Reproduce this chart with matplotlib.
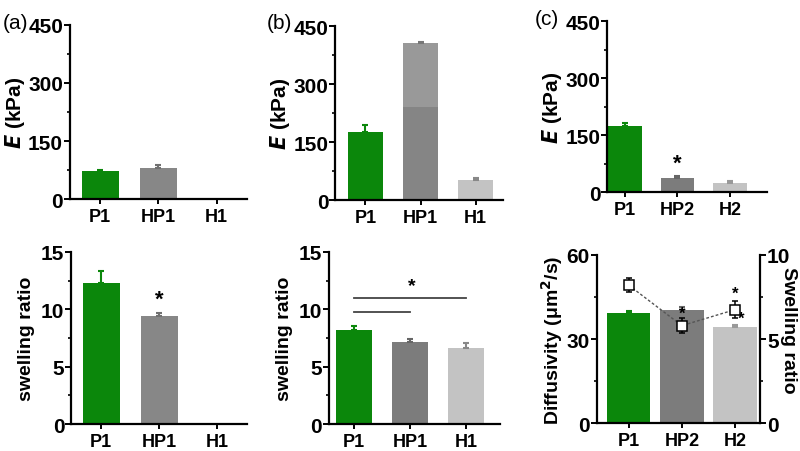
import matplotlib
matplotlib.use("Agg")
import matplotlib.pyplot as plt
import numpy as np
from matplotlib.ticker import MultipleLocator

plt.rcParams['font.family'] = ['Liberation Sans', 'DejaVu Sans']
plt.rcParams['font.weight'] = 'bold'
plt.rcParams['axes.labelweight'] = 'bold'

# panel (a)
cats_a = ["P1", "HP1", "H1"]
E_a = [72, 80, 0]
E_a_err = [4, 8, 0]
sw_a = [12.3, 9.45, 0]
sw_a_err = [1.05, 0.25, 0]

# panel (b)
cats_b = ["P1", "HP1", "H1"]
E_b = [176, 406, 52]
E_b_err = [18, 4, 4]
E_b_hp1_lower = 240  # darker lower part of the HP1 bar
sw_b = [8.2, 7.15, 6.65]
sw_b_err = [0.35, 0.25, 0.4]

# panel (c)
cats_c = ["P1", "HP2", "H2"]
E_c = [174, 37, 24]
E_c_err = [9, 4, 5]
diff_c = [39.3, 40.4, 34.4]
diff_c_err = [0.6, 1.0, 0.8]
swr_c = [8.2, 5.8, 6.75]
swr_c_err = [0.4, 0.45, 0.5]

green = "#0b870b"
gray = "#878787"
dgray = "#7c7c7c"
lgray = "#999999"
vlgray = "#c3c3c3"

fig = plt.figure(figsize=(8, 4.52), dpi=100)


def style(ax, ymax, major):
    for s in ["top", "right"]:
        ax.spines[s].set_visible(False)
    for s in ["left", "bottom"]:
        ax.spines[s].set_linewidth(1.6)
    ax.set_ylim(0, ymax)
    ax.yaxis.set_major_locator(MultipleLocator(major))
    ax.yaxis.set_minor_locator(MultipleLocator(major / 2))
    ax.tick_params(axis="y", which="major", length=4, width=1.4, labelsize=15, pad=1)
    ax.tick_params(axis="y", which="minor", length=2.5, width=1.2)
    ax.tick_params(axis="x", length=3.5, width=1.4, labelsize=13, pad=3)


def bars(ax, cats, vals, errs, colors, ecolors, width=0.64):
    x = np.arange(len(cats))
    ax.bar(x, vals, width=width, color=colors, zorder=2)
    for xi, v, e, ec in zip(x, vals, errs, ecolors):
        if v > 0:
            ax.errorbar(xi, v, yerr=[[0], [e]], color=ec, capsize=2.5, elinewidth=1.5,
                        capthick=1.5, zorder=3)
    ax.set_xticks(x)
    ax.set_xticklabels(cats)
    return x


elabel = "$\\bf{\\it{E}}$ (kPa)"

# (a) top
ax = fig.add_axes([0.0875, 0.5575, 0.221, 0.385])
bars(ax, cats_a, E_a, E_a_err, [green, gray, gray], [green, "#707070", gray])
ax.set_xlim(-0.52, 2.52)
style(ax, 450, 150)
ax.set_ylabel(elabel, fontsize=15, labelpad=1)

# (a) bottom
ax = fig.add_axes([0.089, 0.0595, 0.22, 0.381])
bars(ax, cats_a, sw_a, sw_a_err, [green, gray, gray], [green, "#707070", gray])
ax.set_xlim(-0.52, 2.52)
style(ax, 15, 5)
ax.set_ylabel("swelling ratio", fontsize=14, labelpad=4)
ax.text(1, sw_a[1] + sw_a_err[1] + 0.3, "*", ha="center", va="bottom", fontsize=16)

# (b) top
ax = fig.add_axes([0.419, 0.555, 0.21, 0.385])
x = bars(ax, cats_b, E_b, E_b_err, [green, lgray, vlgray], [green, "#777777", "#888888"])
ax.bar(x[1], E_b_hp1_lower, width=0.64, color="#858585", zorder=2.5)
ax.set_xlim(-0.55, 2.5)
style(ax, 450, 150)
ax.set_ylabel(elabel, fontsize=15, labelpad=1)

# (b) bottom
ax = fig.add_axes([0.411, 0.0595, 0.214, 0.381])
x = bars(ax, cats_b, sw_b, sw_b_err, [green, dgray, vlgray], [green, "#666666", "#888888"])
ax.set_xlim(-0.45, 2.6)
style(ax, 15, 5)
ax.set_ylabel("swelling ratio", fontsize=14, labelpad=4)
ax.plot([x[0], x[1]], [9.75, 9.75], color="#444444", lw=1.3)
ax.plot([x[0], x[2]], [11.0, 11.0], color="#444444", lw=1.3)
ax.text(1.03, 11.3, "*", ha="center", va="bottom", fontsize=14)

# (c) top
ax = fig.add_axes([0.759, 0.573, 0.2, 0.378])
bars(ax, cats_c, E_c, E_c_err, [green, dgray, vlgray], [green, "#666666", "#999999"])
ax.set_xlim(-0.33, 2.7)
style(ax, 450, 150)
ax.set_ylabel(elabel, fontsize=15, labelpad=1)
ax.text(1, E_c[1] + E_c_err[1] + 6, "*", ha="center", va="bottom", fontsize=16)

# (c) bottom
ax = fig.add_axes([0.746, 0.061, 0.204, 0.373])
x = bars(ax, cats_c, diff_c, diff_c_err, [green, dgray, vlgray], [green, "#666666", "#999999"],
         width=0.82)
ax.set_xlim(-0.6, 2.47)
style(ax, 60, 30)
ax.set_ylabel("Diffusivity (\u03bcm$^\\mathbf{2}$/s)", fontsize=14, labelpad=1)
ax.text(x[2] + 0.12, diff_c[2] + 0.4, "*", ha="center", va="bottom", fontsize=12)
ax2 = ax.twinx()
ax2.spines["top"].set_visible(False)
ax2.spines["left"].set_visible(False)
ax2.spines["bottom"].set_visible(False)
ax2.spines["right"].set_linewidth(1.6)
ax2.set_ylim(0, 10)
ax2.yaxis.set_major_locator(MultipleLocator(5))
ax2.yaxis.set_minor_locator(MultipleLocator(2.5))
ax2.tick_params(axis="y", which="major", length=4, width=1.4, labelsize=15, pad=1)
ax2.tick_params(axis="y", which="minor", length=2.5, width=1.2)
ax2.errorbar(x, swr_c, yerr=swr_c_err, fmt="s", ls=(0, (2, 1.5)), color="#555555", lw=1,
             mfc="white", mec="black", ms=7, mew=1.1, ecolor="black", elinewidth=1.1,
             capsize=2.5, capthick=1.1, zorder=4)
ax2.text(x[1], swr_c[1] + 0.3, "*", ha="center", va="bottom", fontsize=12)
ax2.text(x[2], swr_c[2] + swr_c_err[2] + 0.05, "*", ha="center", va="bottom", fontsize=12)
fig.text(0.985, 0.27, "Swelling ratio", fontsize=14, rotation=-90, ha="center", va="center")

# panel letters
fig.text(0.003, 0.935, "(a)", fontsize=15, fontweight="normal")
fig.text(0.333, 0.935, "(b)", fontsize=15, fontweight="normal")
fig.text(0.668, 0.945, "(c)", fontsize=15, fontweight="normal")

fig.savefig("out.png", dpi=100)
